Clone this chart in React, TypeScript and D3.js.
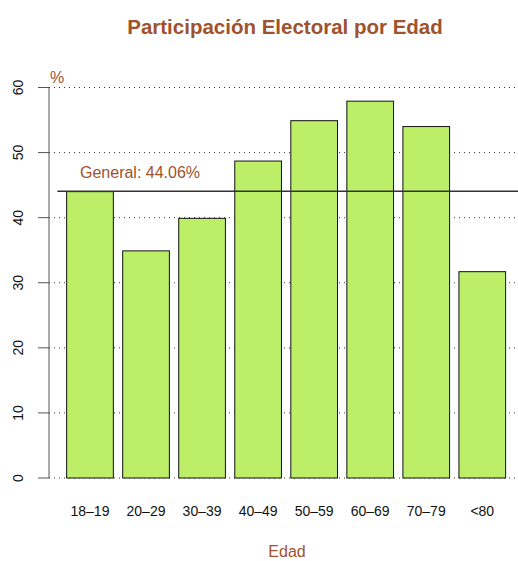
import * as d3 from "d3";

const categories = ["18\u201319", "20\u201329", "30\u201339", "40\u201349", "50\u201359", "60\u201369", "70\u201379", "<80"];
const turnout = [44.0, 34.9, 39.9, 48.7, 54.9, 57.9, 54.0, 31.7];
const yTicks = [0, 10, 20, 30, 40, 50, 60];
const generalRate = 44.06;

const W = 518;
const H = 561;
const SIENNA = "#a0522d";
const FILL = "#bcee68";
const FONT = "Liberation Sans, Arial, Helvetica, sans-serif";

export default function App() {
  // R barplot units: width 1, space 0.2
  const x = d3.scaleLinear().domain([0, 1]).range([57.3, 57.3 + 46.7]);
  const y = d3.scaleLinear().domain([0, 60]).range([478, 87.5]);
  const axisX = 49;

  return (
    <svg width={W} height={H} style={{ position: "absolute", left: 0, top: 0 }} fontFamily={FONT}>
      <rect width={W} height={H} fill="white" />
      <text x={285} y={34} textAnchor="middle" fontSize={20.5} fontWeight="bold" fill={SIENNA}>
        Participación Electoral por Edad
      </text>

      {/* grid */}
      {yTicks.map((t) => (
        <line key={"g" + t} x1={axisX} x2={W} y1={y(t)} y2={y(t)} stroke="#333" strokeWidth={1} strokeDasharray="1 4" />
      ))}

      {/* bars */}
      {turnout.map((v, i) => {
        const left = x(0.2 + i * 1.2);
        const right = x(1.2 + i * 1.2);
        return (
          <rect
            key={categories[i]}
            x={left}
            y={y(v)}
            width={right - left}
            height={y(0) - y(v)}
            fill={FILL}
            stroke="#111"
            strokeWidth={1}
          />
        );
      })}

      {/* general line */}
      <line x1={x(0)} x2={W} y1={y(generalRate)} y2={y(generalRate)} stroke="#333" strokeWidth={1.3} />
      <text x={80} y={178} fontSize={16} fill={SIENNA}>
        General: {generalRate.toFixed(2)}%
      </text>

      {/* y axis */}
      <line x1={axisX} x2={axisX} y1={y(0)} y2={y(60)} stroke="#555" strokeWidth={1} />
      {yTicks.map((t) => (
        <g key={"t" + t}>
          <line x1={axisX - 11} x2={axisX} y1={y(t)} y2={y(t)} stroke="#555" strokeWidth={1} />
          <text
            transform={`translate(23,${y(t)}) rotate(-90)`}
            textAnchor="middle"
            fontSize={14}
            fill="#111"
          >
            {t}
          </text>
        </g>
      ))}
      <text x={50} y={83} fontSize={16} fill={SIENNA}>
        %
      </text>

      {/* x labels */}
      {categories.map((c, i) => (
        <text key={"x" + c} x={x(0.7 + i * 1.2)} y={516} textAnchor="middle" fontSize={14} fill="#111">
          {c}
        </text>
      ))}
      <text x={287} y={557} textAnchor="middle" fontSize={16} fill={SIENNA}>
        Edad
      </text>
    </svg>
  );
}
